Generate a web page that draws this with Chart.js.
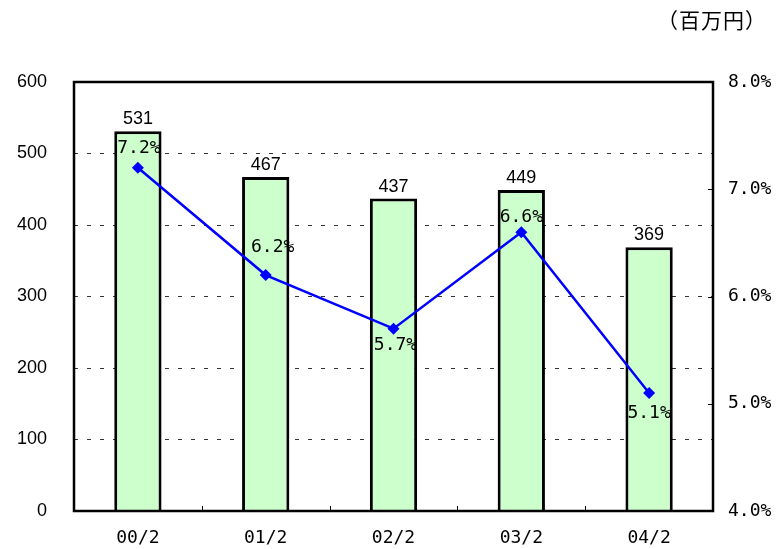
<!DOCTYPE html>
<html>
<head>
<meta charset="utf-8">
<script src="https://cdn.jsdelivr.net/npm/chart.js@4.4.1/dist/chart.umd.min.js"></script>
<style>
  html, body { margin: 0; padding: 0; background: #fff; }
</style>
</head>
<body>
<canvas id="chart1" width="776" height="549"></canvas>
<script>
// data
var categories = ['00/2', '01/2', '02/2', '03/2', '04/2'];
var salesValues = [531, 467, 437, 449, 369];     // 百万円, bars (left axis)
var ratioValues = [7.2, 6.2, 5.7, 6.6, 5.1];     // %, line (right axis)
var leftTicks = [0, 100, 200, 300, 400, 500, 600];
var rightTicks = [4.0, 5.0, 6.0, 7.0, 8.0];
var unitLabel = '（百万円）';

// where the % labels sit relative to their point (dx, dy in px)
var ratioLabelShift = [[1, -19], [7, -28], [2, 17], [0, -15], [0, 20]];

var monoFont = '18px "DejaVu Sans Mono", monospace';

var extrasPlugin = {
  id: 'extras',
  afterDraw: function (chart) {
    var ctx = chart.ctx;
    var area = chart.chartArea;
    var xs = chart.scales.x, y1 = chart.scales.y1;

    ctx.save();
    // frame round the plot
    ctx.strokeStyle = '#000';
    ctx.lineWidth = 2.5;
    ctx.strokeRect(area.left, area.top, area.right - area.left, area.bottom - area.top);

    // inside tick marks
    ctx.lineWidth = 1;
    ctx.beginPath();
    for (var i = 0; i < categories.length - 1; i++) {
      var bx = Math.round((xs.getPixelForValue(i) + xs.getPixelForValue(i + 1)) / 2) + 0.5;
      ctx.moveTo(bx, area.bottom);
      ctx.lineTo(bx, area.bottom - 5);
    }
    rightTicks.forEach(function (t) {
      var ty = Math.round(y1.getPixelForValue(t)) + 0.5;
      ctx.moveTo(area.right, ty);
      ctx.lineTo(area.right - 5, ty);
    });
    ctx.stroke();

    // x labels
    ctx.fillStyle = '#000';
    ctx.font = monoFont;
    ctx.textAlign = 'center';
    ctx.textBaseline = 'middle';
    categories.forEach(function (c, i) {
      ctx.fillText(c, xs.getPixelForValue(i), 538);
    });

    // right axis labels
    ctx.textAlign = 'left';
    rightTicks.forEach(function (t) {
      ctx.fillText(t.toFixed(1) + '%', area.right + 15, y1.getPixelForValue(t));
    });

    // bar value labels
    var barMeta = chart.getDatasetMeta(1);
    ctx.font = '18px "Liberation Sans", Arial, sans-serif';
    ctx.textAlign = 'center';
    ctx.textBaseline = 'bottom';
    barMeta.data.forEach(function (bar, i) {
      ctx.fillText(String(salesValues[i]), bar.x, bar.y - 3);
    });

    // % labels
    var lineMeta = chart.getDatasetMeta(0);
    ctx.font = monoFont;
    ctx.textBaseline = 'middle';
    lineMeta.data.forEach(function (pt, i) {
      var s = ratioLabelShift[i];
      ctx.fillText(ratioValues[i].toFixed(1) + '%', pt.x + s[0], pt.y + s[1]);
    });

    // unit
    ctx.font = '21px "Noto Sans CJK JP", sans-serif';
    ctx.letterSpacing = '1px';
    ctx.textAlign = 'left';
    ctx.fillText(unitLabel, 657, 20);
    ctx.restore();
  }
};

var config = {
  data: {
    labels: categories,
    datasets: [
      {
        type: 'line',
        label: 'ratio',
        data: ratioValues,
        yAxisID: 'y1',
        borderColor: '#0000FF',
        backgroundColor: '#0000FF',
        borderWidth: 2.5,
        pointStyle: 'rectRot',
        pointRadius: 6,
        pointBorderWidth: 0,
        tension: 0,
        fill: false,
        order: 0
      },
      {
        type: 'bar',
        label: 'sales',
        data: salesValues,
        yAxisID: 'y',
        backgroundColor: '#CCFFCC',
        borderColor: '#000',
        borderWidth: 3,
        categoryPercentage: 1,
        barPercentage: 0.37,
        order: 1
      }
    ]
  },
  options: {
    responsive: false,
    devicePixelRatio: 1,
    animation: false,
    layout: { padding: { top: 82, left: 0, right: 0, bottom: 0 } },
    plugins: {
      legend: { display: false },
      tooltip: { enabled: false }
    },
    scales: {
      x: {
        grid: { display: false, drawTicks: false },
        border: { display: false },
        ticks: { display: false },
        afterFit: function (s) { s.height = 38; }
      },
      y: {
        position: 'left',
        min: 0,
        max: 600,
        afterBuildTicks: function (s) { s.ticks = leftTicks.map(function (v) { return { value: v }; }); },
        ticks: {
          color: '#000',
          padding: 27,
          font: { family: '"Liberation Sans", Arial, sans-serif', size: 18 }
        },
        grid: {
          drawTicks: false,
          lineWidth: 1,
          color: function (c) {
            var v = c.tick && c.tick.value;
            return (v === 0 || v === 600) ? 'rgba(0,0,0,0)' : '#333';
          }
        },
        border: { display: false, dash: [4, 9] },
        afterFit: function (s) { s.width = 74; }
      },
      y1: {
        position: 'right',
        min: 4,
        max: 8,
        grid: { display: false, drawTicks: false },
        border: { display: false },
        ticks: { display: false },
        afterFit: function (s) { s.width = 63; }
      }
    }
  },
  plugins: [extrasPlugin]
};

var ctx = document.getElementById('chart1').getContext('2d');
window.chart1 = new Chart(ctx, config);
</script>
</body>
</html>
